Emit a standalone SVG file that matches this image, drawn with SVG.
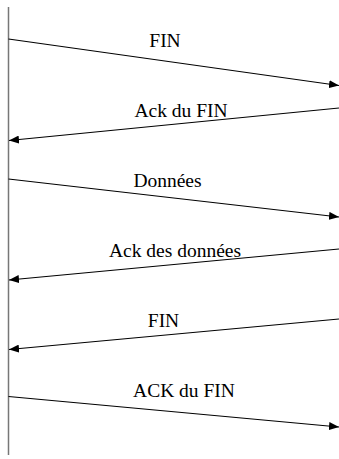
<svg xmlns="http://www.w3.org/2000/svg" width="339" height="459" viewBox="0 0 339 459">
<defs>
<style>
.msg{stroke:#000;stroke-width:1.2;fill:none;marker-end:url(#ah)}
.lbl{font-family:"Liberation Serif","Times New Roman",serif;font-size:19.5px;fill:#000;text-anchor:middle}
</style>
<marker id="ah" markerWidth="10" markerHeight="8" refX="10" refY="4" orient="auto" markerUnits="userSpaceOnUse">
<path d="M0,0 L10,4 L0,8 Z" fill="#000"/>
</marker>
</defs>
<rect width="339" height="459" fill="#fff"/>
<g id="timeline">
<line x1="8.5" y1="7" x2="8.5" y2="455" stroke="#777" stroke-width="1.5"/>
</g>
<g id="connectors">
<line class="msg" x1="8.5" y1="39" x2="339" y2="85.5"/>
<line class="msg" x1="339" y1="108" x2="9" y2="140.5"/>
<line class="msg" x1="8.5" y1="179" x2="339" y2="217"/>
<line class="msg" x1="339" y1="249" x2="9" y2="280"/>
<line class="msg" x1="339" y1="319" x2="9" y2="349.5"/>
<line class="msg" x1="8.5" y1="396.5" x2="339" y2="427"/>
</g>
<g id="labels">
<text class="lbl" x="165" y="47">FIN</text>
<text class="lbl" x="181" y="117">Ack du FIN</text>
<text class="lbl" x="167.5" y="187">Données</text>
<text class="lbl" x="175" y="257">Ack des données</text>
<text class="lbl" x="163.5" y="327">FIN</text>
<text class="lbl" x="184" y="397">ACK du FIN</text>
</g>
</svg>
